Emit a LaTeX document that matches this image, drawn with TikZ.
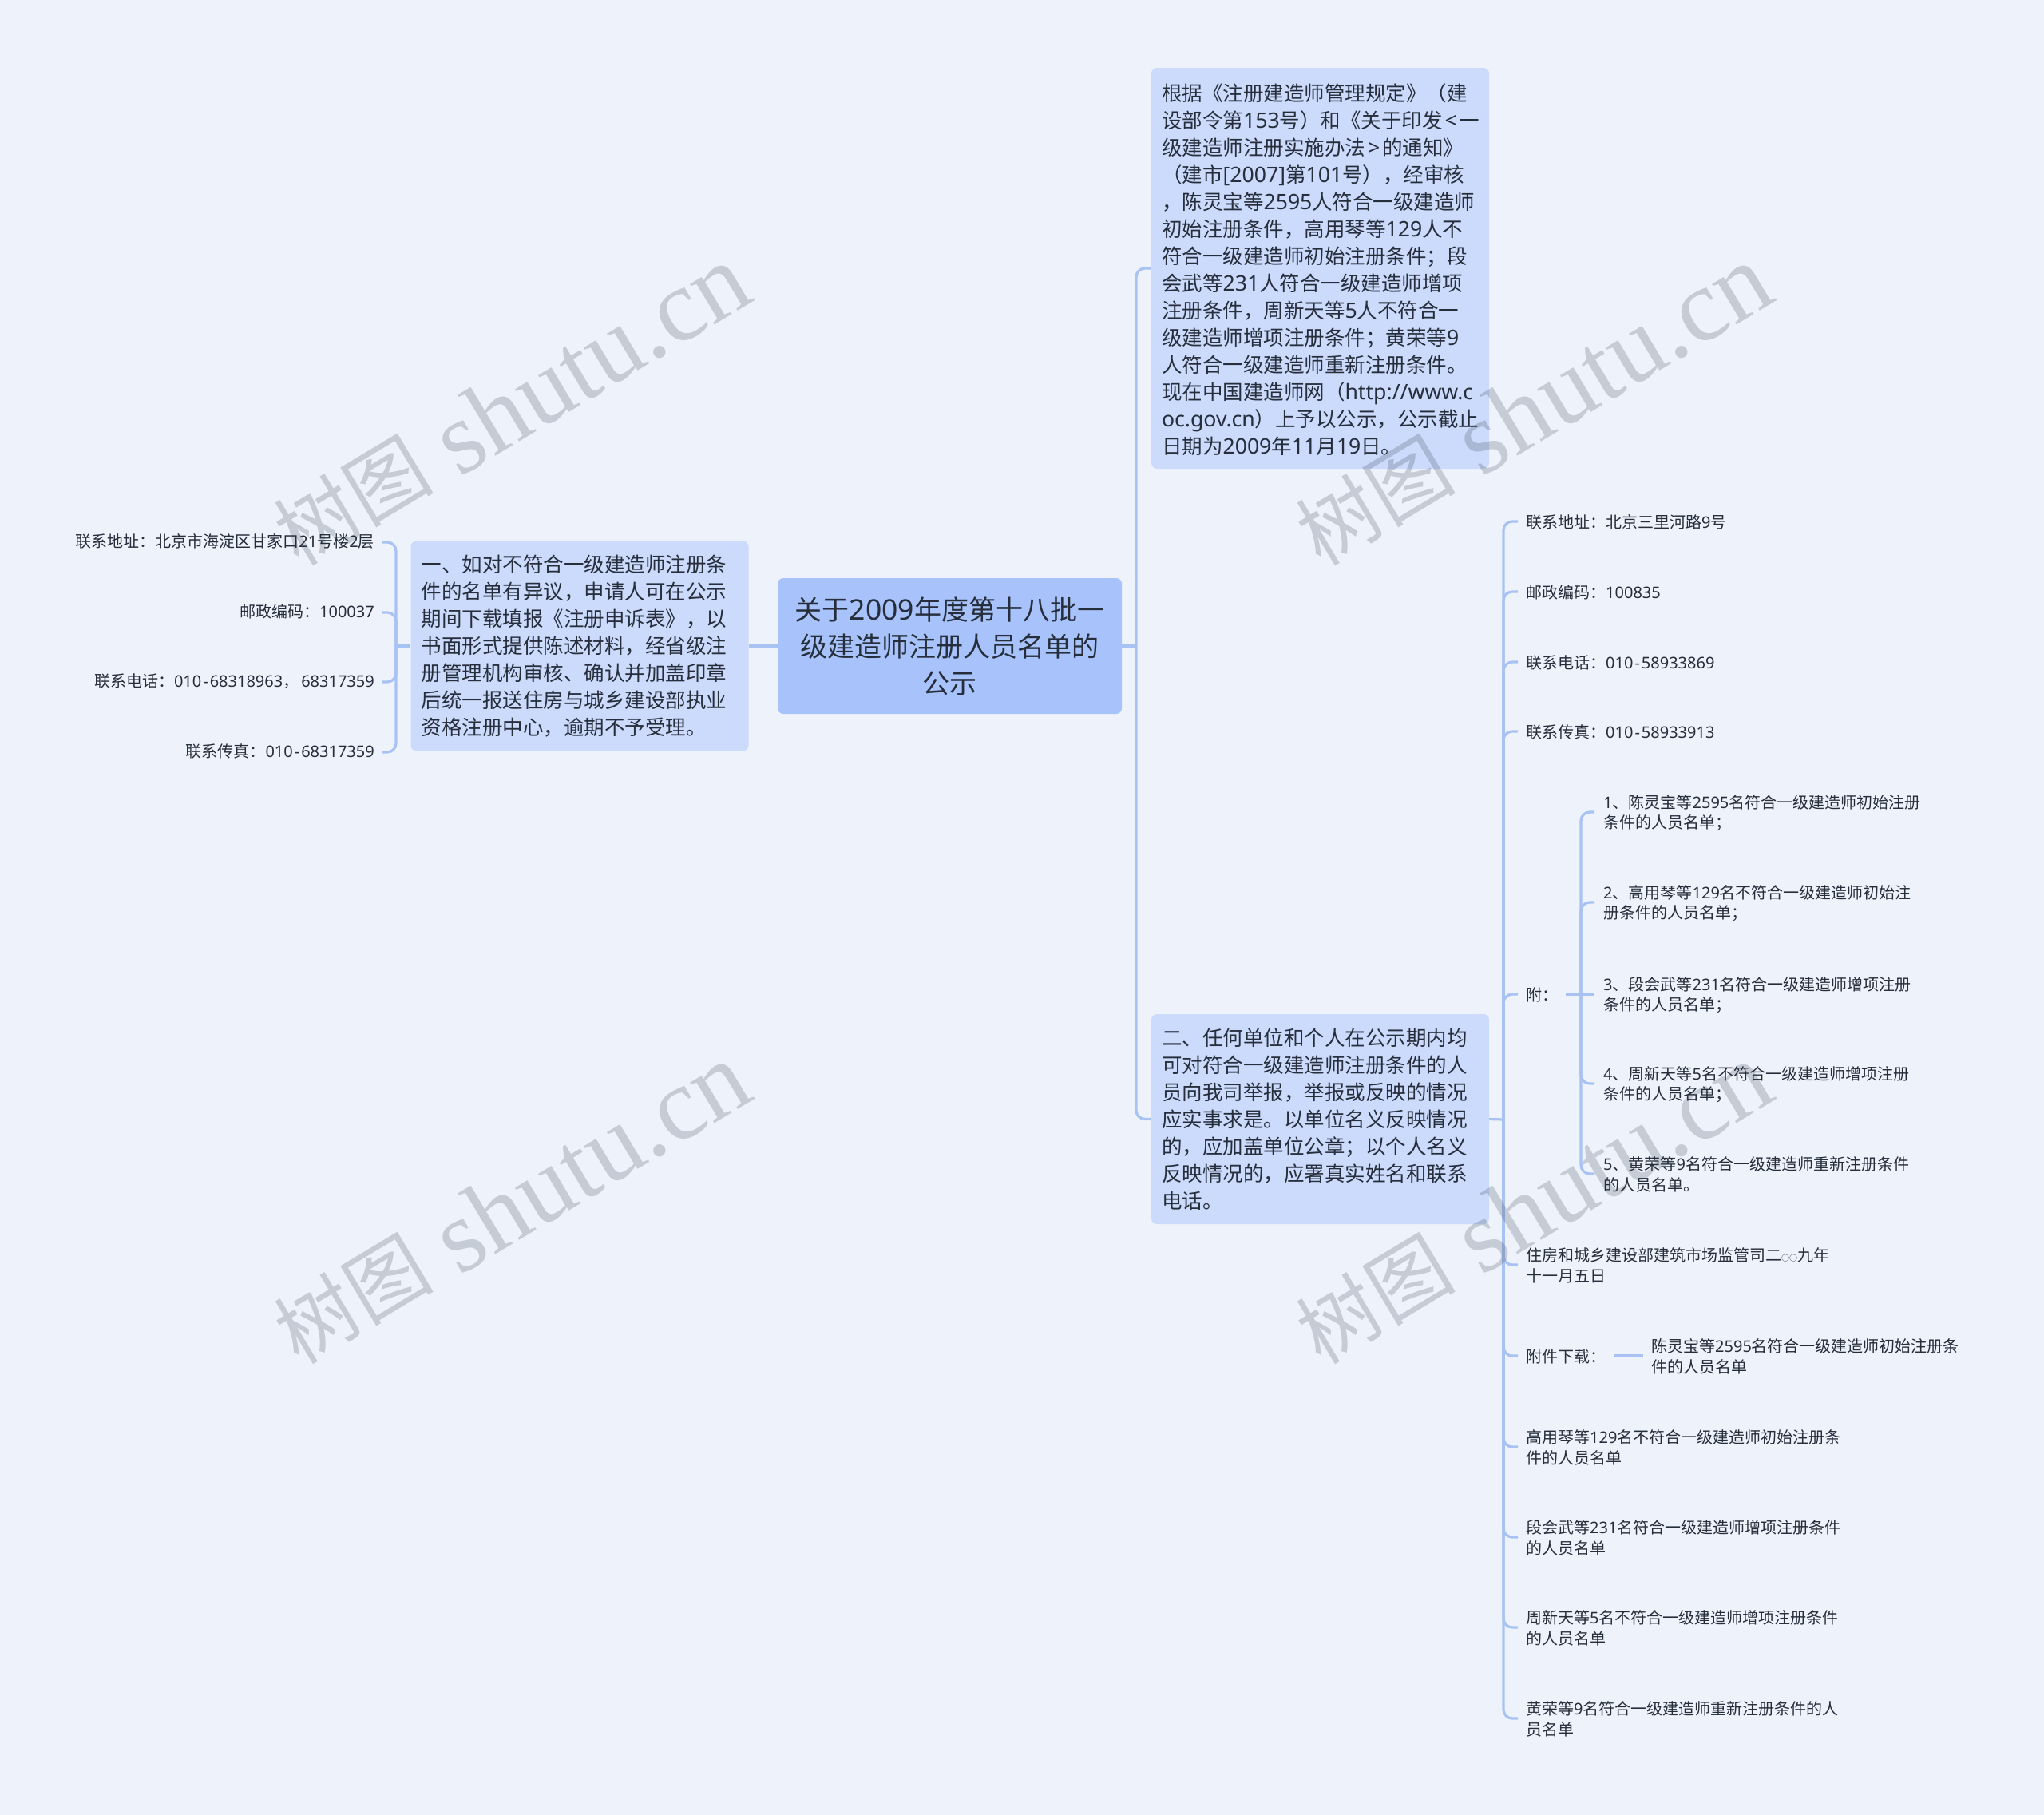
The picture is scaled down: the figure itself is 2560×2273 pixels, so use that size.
\documentclass[tikz,border=0pt]{standalone}
\usepackage{fontspec}
\setmainfont{Noto Sans CJK SC}
\newfontfamily\lat{Noto Sans}
\newfontfamily\latB[Scale=1.045]{Noto Sans}
\newfontfamily\wmlat{Liberation Serif}
\newcommand\latn[1]{{\lat #1}}
\newcommand\latb[1]{{\latB #1}}
\newcommand\hy{\kern2pt-\kern2pt}
\definecolor{bgc}{HTML}{EEF3FB}
\definecolor{rootc}{HTML}{A8C2FB}
\definecolor{subc}{HTML}{CCDAFC}
\definecolor{linec}{HTML}{A9C2F4}
\definecolor{textc}{HTML}{262E3B}
\definecolor{wmc}{HTML}{23323E}
\tikzset{
  rootbox/.style={fill=rootc,rounded corners=7pt,inner xsep=14pt,inner ysep=0pt,text width=403pt,minimum height=170pt,align=center,text=textc,font=\fontsize{34pt}{46pt}\selectfont},
  subbox/.style={fill=subc,rounded corners=7pt,inner xsep=13pt,inner ysep=0pt,text width=397pt,align=left,text=textc,font=\fontsize{25.5pt}{34pt}\selectfont},
  leaf/.style={anchor=west,yshift=-1pt,inner xsep=10pt,inner ysep=0pt,align=left,text=textc,font=\fontsize{20pt}{25.6pt}\selectfont},
  leafl/.style={leaf,anchor=east,yshift=1pt,inner xsep=9pt,align=right},
  sublf/.style={leaf,inner xsep=11pt},
  link/.style={draw=linec,line width=3.2pt},
  elbow/.style={link,rounded corners=11pt},
  wmark/.style={anchor=base,rotate=31,text=wmc,text opacity=.2,inner sep=0pt,font=\fontsize{100pt}{120pt}\selectfont}
}
\begin{document}
\begin{tikzpicture}[x=1pt,y=-1pt]
\path[use as bounding box,fill=bgc] (0,0) rectangle (2560,2273);
% junctions
\coordinate (jr) at (1423,809);
\coordinate (jl) at (496,809);
\coordinate (jb) at (1883,1402);
\coordinate (jf) at (1980,1245);
% boxes
\node[rootbox] (root) at (1189.5,809) {关于\latb{2009}年度第十八批一\\级建造师注册人员名单的\\公示};
\node[subbox,minimum height=263pt] (left) at (726,809) {一、如对不符合一级建造师注册条\\件的名单有异议，申请人可在公示\\期间下载填报《注册申诉表》，以\\书面形式提供陈述材料，经省级注\\册管理机构审核、确认并加盖印章\\后统一报送住房与城乡建设部执业\\资格注册中心，逾期不予受理。};
\node[subbox,minimum height=502pt] (top) at (1653.5,336) {\rule{0pt}{25.5pt}根据《注册建造师管理规定》（建\\设部令第\latb{153}号）和《关于印发\kern3pt\latb{<}\kern3pt一\\级建造师注册实施办法\kern3pt\latb{>}\kern3pt的通知》\\（建市\latb{[2007]}第\latb{101}号），经审核\\，陈灵宝等\latb{2595}人符合一级建造师\\初始注册条件，高用琴等\latb{129}人不\\符合一级建造师初始注册条件；段\\会武等\latb{231}人符合一级建造师增项\\注册条件，周新天等\latb{5}人不符合一\\级建造师增项注册条件；黄荣等\latb{9}\\人符合一级建造师重新注册条件。\\现在中国建造师网（\latb{http://www.c}\\\latb{oc.gov.cn}）上予以公示，公示截止\\日期为\latb{2009}年\latb{11}月\latb{19}日。};
\node[subbox,minimum height=263pt] (bot) at (1653.5,1401.5) {二、任何单位和个人在公示期内均\\可对符合一级建造师注册条件的人\\员向我司举报，举报或反映的情况\\应实事求是。以单位名义反映情况\\的，应加盖单位公章；以个人名义\\反映情况的，应署真实姓名和联系\\电话。};
% left leaves
\node[leafl] (la) at (478,678) {联系地址：北京市海淀区甘家口\latn{21}号楼\latn{2}层};
\node[leafl] (lb) at (478,766) {邮政编码：\latn{100037}};
\node[leafl] (lc) at (478,853) {联系电话：\latn{010\hy68318963}，\kern3pt\latn{68317359}};
\node[leafl] (ld) at (478,941) {联系传真：\latn{010\hy68317359}};
% right leaves
\node[leaf] (ra) at (1901,653) {联系地址：北京三里河路\latn{9}号};
\node[leaf] (rb) at (1901,741) {邮政编码：\latn{100835}};
\node[leaf] (rc) at (1901,829) {联系电话：\latn{010\hy58933869}};
\node[leaf] (rd) at (1901,916) {联系传真：\latn{010\hy58933913}};
\node[leaf] (fu) at (1901,1245) {附：};
\node[leaf] (zf) at (1901,1584) {住房和城乡建设部建筑市场监管司二{\fontsize{10pt}{10pt}\selectfont ○○}九年\\十一月五日};
\node[leaf] (dl) at (1901,1698) {附件下载：};
\node[leaf] (ga) at (1901,1812) {高用琴等\latn{129}名不符合一级建造师初始注册条\\件的人员名单};
\node[leaf] (du) at (1901,1925) {段会武等\latn{231}名符合一级建造师增项注册条件\\的人员名单};
\node[leaf] (zh) at (1901,2038) {周新天等\latn{5}名不符合一级建造师增项注册条件\\的人员名单};
\node[leaf] (hu) at (1901,2152) {黄荣等\latn{9}名符合一级建造师重新注册条件的人\\员名单};
% attachments
\node[sublf] (s1) at (1997,1017) {\latn{1}、陈灵宝等\latn{2595}名符合一级建造师初始注册\\条件的人员名单；};
\node[sublf] (s2) at (1997,1130) {\latn{2}、高用琴等\latn{129}名不符合一级建造师初始注\\册条件的人员名单；};
\node[sublf] (s3) at (1997,1245) {\latn{3}、段会武等\latn{231}名符合一级建造师增项注册\\条件的人员名单；};
\node[sublf] (s4) at (1997,1357) {\latn{4}、周新天等\latn{5}名不符合一级建造师增项注册\\条件的人员名单；};
\node[sublf] (s5) at (1997,1470) {\latn{5}、黄荣等\latn{9}名符合一级建造师重新注册条件\\的人员名单。};
\node[leaf] (dls) at (2058,1698) {陈灵宝等\latn{2595}名符合一级建造师初始注册条\\件的人员名单};
% connectors
\draw[link] (root.west) -- (left.east);
\draw[link] (root.east) -- (jr);
\draw[elbow] (top.west) -| (jr);
\draw[elbow] (bot.west) -| (jr);
\draw[link] (left.west) -- (jl);
\foreach \n in {la,lb,lc,ld} \draw[elbow] ([yshift=-1pt]\n.east) -| (jl);
\draw[link] (bot.east) -- (jb);
\foreach \n in {ra,rb,rc,rd,fu,zf,dl,ga,du,zh,hu} \draw[elbow] ([yshift=1pt]\n.west) -| (jb);
\draw[link] ([yshift=1pt]fu.east) -- ([yshift=1pt]s3.west);
\foreach \n in {s1,s2,s4,s5} \draw[elbow] ([yshift=1pt]\n.west) -| (jf);
\draw[link] ([yshift=1pt]dl.east) -- ([yshift=1pt]dls.west);
% watermarks
\foreach \wx/\wy [count=\wi] in {663/546,1943/546,663/1546,1943/1546}
  \node[wmark] (wm\wi) at (\wx,\wy) {\raisebox{8pt}{树图}\kern30pt{\wmlat\fontsize{129pt}{130pt}\selectfont shutu.cn}};
\end{tikzpicture}
\end{document}
